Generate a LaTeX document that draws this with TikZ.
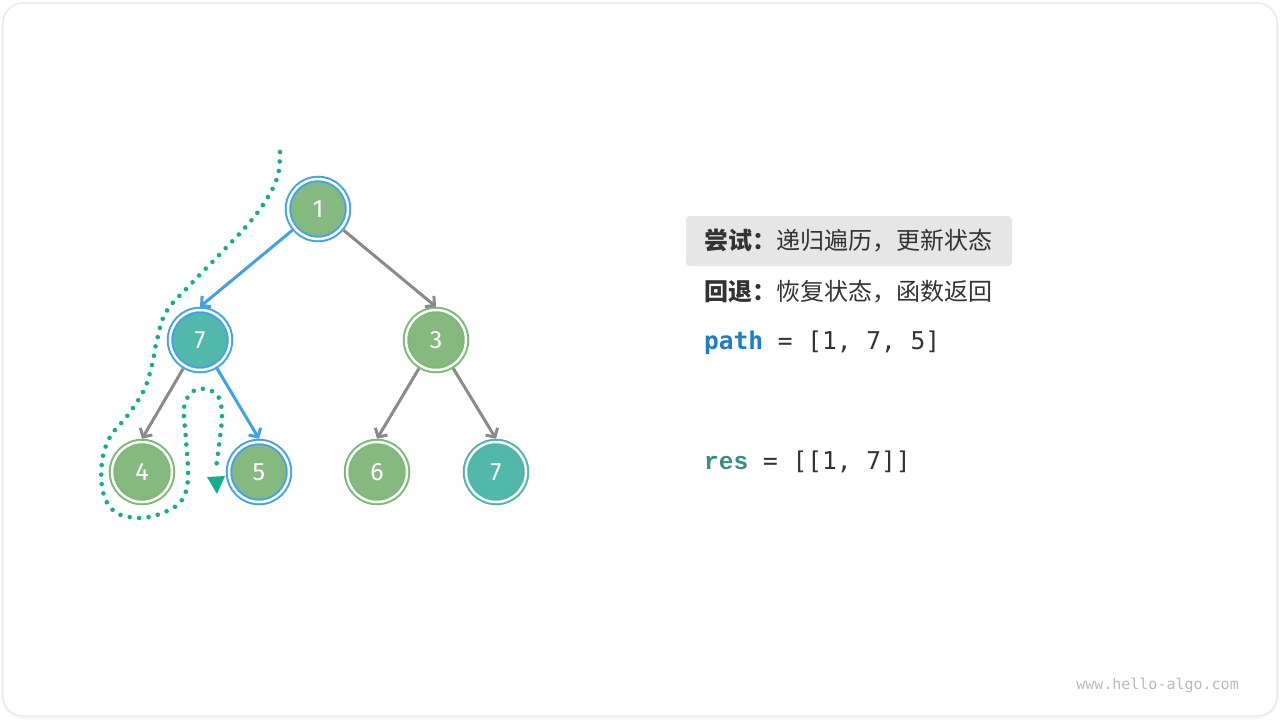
\documentclass[tikz,border=0pt]{standalone}
\usepackage{fontspec}
\setmainfont{Fira Sans}
\setmonofont{DejaVu Sans Mono}
\newfontfamily\cjk{Noto Sans CJK SC}
\newfontfamily\resfont{Liberation Mono}
\usetikzlibrary{arrows.meta}
\definecolor{fillgreen}{HTML}{85B97F}
\definecolor{fillteal}{HTML}{52B8AC}
\definecolor{ringgreen}{HTML}{7DB878}
\definecolor{ringblue}{HTML}{44A3E6}
\definecolor{ringteal}{HTML}{4DB5A8}
\definecolor{edgegray}{HTML}{8A8A8A}
\definecolor{edgeblue}{HTML}{3FA2E6}
\definecolor{dotcol}{HTML}{16AE8A}
\definecolor{txt}{HTML}{333333}
\definecolor{pathblue}{HTML}{1C7DC9}
\definecolor{resteal}{HTML}{3A8F83}
\definecolor{boxgray}{HTML}{E6E6E6}
\tikzset{
  tnode/.style={circle, minimum size=60pt, inner sep=0pt, outer sep=3.25pt,
    line width=2pt, double distance=2.5pt, double=white,
    text=white, font=\fontsize{25}{25}\selectfont},
  gnode/.style={tnode, fill=fillgreen, draw=ringgreen},
  bnode/.style={tnode, fill=fillgreen, draw=ringblue},
  btnode/.style={tnode, fill=fillteal, draw=ringblue},
  tlnode/.style={tnode, fill=fillteal, draw=ringteal},
  gedge/.style={draw=edgegray, line width=3pt, -{Straight Barb[length=6.5pt,width=14pt,line width=3pt]}},
  bedge/.style={draw=edgeblue, line width=3pt, -{Straight Barb[length=6.5pt,width=14pt,line width=3pt]}},
  dotline/.style={draw=dotcol, line width=4.6pt, line cap=round, dash pattern=on 0pt off 9.5pt},
  lbl/.style={anchor=west, inner sep=0pt, text=txt},
}
\begin{document}
\begin{tikzpicture}[x=1pt,y=-1pt]
\useasboundingbox (0,0) rectangle (1280,720);
% card
\draw[draw=black!4, line width=4pt, rounded corners=22pt] (3,4) rectangle (1277,717);
\draw[draw=black!9, line width=1.2pt, fill=white, rounded corners=20pt] (3,3) rectangle (1277,716);

% dotted traversal
\draw[dotline] plot[smooth, tension=0.6] coordinates {(280,152) (278,175) (268,197) (250,222) (222,252) (190,285) (166,312) (157,340) (152,365) (144,390) (128,415) (110,437) (102,462) (103,492) (115,512) (140,518) (165,512) (182,500) (188,478) (186,440) (184,408) (192,392) (205,389) (218,396) (222,415) (219,445) (216,468)};
\fill[dotcol] (207,477) -- (225,476) -- (217,494) -- cycle;

% nodes
\node[bnode]  (n1) at (318,209) {1};
\node[btnode] (n7) at (200,340) {7};
\node[gnode]  (n3) at (436,340) {3};
\node[gnode]  (n4) at (142,472) {4};
\node[bnode]  (n5) at (259,472) {5};
\node[gnode]  (n6) at (377,472) {6};
\node[tlnode] (n7b) at (496,472) {7};

% edges
\draw[bedge] (n1) -- (n7.north);
\draw[gedge] (n1) -- (n3.north);
\draw[gedge] (n7) -- (n4.north);
\draw[bedge] (n7) -- (n5.north);
\draw[gedge] (n3) -- (n6.north);
\draw[gedge] (n3) -- (n7b.north);

% legend
\node[fill=boxgray, rounded corners=4pt, minimum width=326pt, minimum height=50pt, inner sep=0pt] (box) at (849,241) {};
\node[lbl, font=\cjk\fontsize{24}{24}\selectfont] (try) at (704,241) {{\bfseries 尝试：}递归遍历，更新状态};
\node[lbl, font=\cjk\fontsize{24}{24}\selectfont] (back) at (704,292) {{\bfseries 回退：}恢复状态，函数返回};
\node[lbl, font=\ttfamily\fontsize{24.5}{24.5}\selectfont] (path) at (704,343) {\textcolor{pathblue}{\bfseries path} = [1, 7, 5]};
\node[lbl, font=\ttfamily\fontsize{24.5}{24.5}\selectfont] (res) at (704,462) {\textcolor{resteal}{\resfont\bfseries res} = [[1, 7]]};

% watermark
\node[anchor=east, inner sep=0pt, text=black!27, font=\ttfamily\fontsize{15}{15}\selectfont] (wm) at (1239,685) {www.hello-algo.com};
\end{tikzpicture}
\end{document}
